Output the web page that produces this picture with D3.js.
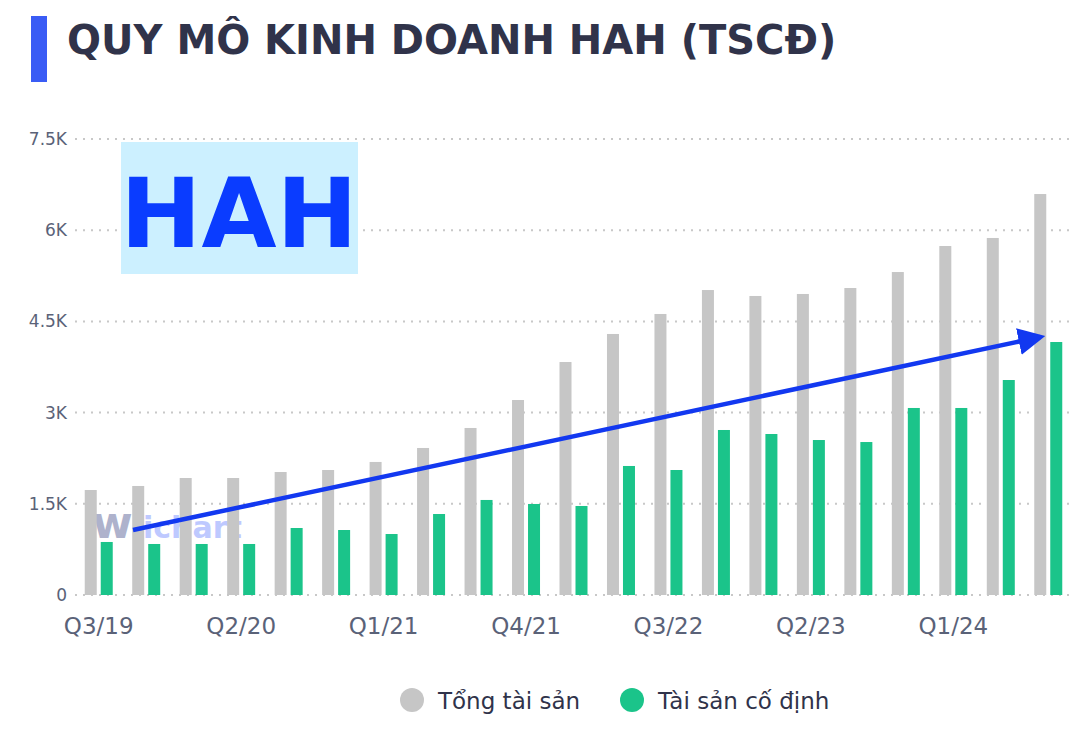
<!DOCTYPE html>
<html><head><meta charset="utf-8">
<script src="https://cdn.jsdelivr.net/npm/d3@7"></script>
<style>body{margin:0;background:#fff;font-family:"DejaVu Sans",sans-serif}</style>
</head><body><svg id="c" width="1083" height="731"></svg>
<script>
const quarters=["Q3/19","Q4/19","Q1/20","Q2/20","Q3/20","Q4/20","Q1/21","Q2/21","Q3/21","Q4/21","Q1/22","Q2/22","Q3/22","Q4/22","Q1/23","Q2/23","Q3/23","Q4/23","Q1/24","Q2/24","Q3/24"];
const tongTaiSan=[1727,1793,1924,1924,2023,2056,2188,2418,2747,3207,3832,4293,4622,5016,4918,4951,5049,5312,5740,5872,6595];
const taiSanCoDinh=[872,839,839,839,1102,1069,1003,1332,1563,1497,1464,2122,2056,2714,2648,2549,2516,3076,3076,3536,4161];
const yTicks=[0,1500,3000,4500,6000,7500];
const yLabels=["0","1.5K","3K","4.5K","6K","7.5K"];
const svg=d3.select("#c");
const x=d3.scaleBand().domain(quarters).range([75,1072]);
const y=d3.scaleLinear().domain([0,7500]).range([595,139]);
svg.append("rect").attr("x",31).attr("y",16).attr("width",16).attr("height",66).attr("fill","#3a5cf5");
svg.append("text").attr("x",67).attr("y",54).attr("font-size",40).attr("font-weight","bold").attr("fill","#30334a").text("QUY MÔ KINH DOANH HAH (TSCĐ)");
svg.selectAll(".g").data(yTicks).join("line").attr("x1",75).attr("x2",1072).attr("y1",d=>y(d)).attr("y2",d=>y(d)).attr("stroke","#c8c8c8").attr("stroke-width",2).attr("stroke-dasharray","2,6");
svg.selectAll(".yl").data(yTicks).join("text").attr("x",67).attr("y",d=>y(d)+6).attr("text-anchor","end").attr("font-size",17).attr("fill","#5a6278").text((d,i)=>yLabels[i]);
svg.append("rect").attr("x",121).attr("y",142).attr("width",237).attr("height",132).attr("fill","#ccf0ff");
svg.append("text").attr("x",239).attr("y",247).attr("text-anchor","middle").attr("font-size",97).attr("font-weight","bold").attr("fill","#0a3cff").text("HAH");
svg.append("text").attr("x",92).attr("y",538).attr("font-size",44).attr("font-weight","bold").attr("fill","#9aa0c0").attr("opacity",0.8).text("w");
svg.append("text").attr("x",143).attr("y",538).attr("font-size",30).attr("font-weight","bold").attr("fill","#b8c4ff").attr("opacity",0.9).text("ichart");
const bw=12;
svg.selectAll(".b1").data(tongTaiSan).join("rect").attr("x",(d,i)=>x(quarters[i])+x.bandwidth()/2-bw-2).attr("width",bw).attr("y",d=>y(d)).attr("height",d=>y(0)-y(d)).attr("fill","#c6c6c6");
svg.selectAll(".b2").data(taiSanCoDinh).join("rect").attr("x",(d,i)=>x(quarters[i])+x.bandwidth()/2+2).attr("width",bw).attr("y",d=>y(d)).attr("height",d=>y(0)-y(d)).attr("fill","#1bc48a");
svg.selectAll(".xl").data(quarters.filter((q,i)=>i%3==0)).join("text").attr("x",d=>x(d)+x.bandwidth()/2).attr("y",634).attr("text-anchor","middle").attr("font-size",23).attr("fill","#5a6278").text(d=>d);
svg.append("defs").append("marker").attr("id","ar").attr("viewBox","0 0 10 10").attr("refX",8).attr("refY",5).attr("markerWidth",6).attr("markerHeight",6).attr("orient","auto").attr("markerUnits","strokeWidth").append("path").attr("d","M0,0L10,5L0,10z").attr("fill","#1238f0");
svg.append("line").attr("x1",133).attr("y1",530).attr("x2",1040).attr("y2",337).attr("stroke","#1238f0").attr("stroke-width",4.5).attr("marker-end","url(#ar)");
const leg=[["Tổng tài sản","#c6c6c6",412],["Tài sản cố định","#1bc48a",632]];
leg.forEach(([t,c,lx])=>{svg.append("circle").attr("cx",lx).attr("cy",700).attr("r",12).attr("fill",c);
svg.append("text").attr("x",lx+26).attr("y",709).attr("font-size",23).attr("fill","#30334a").text(t);});
</script></body></html>
